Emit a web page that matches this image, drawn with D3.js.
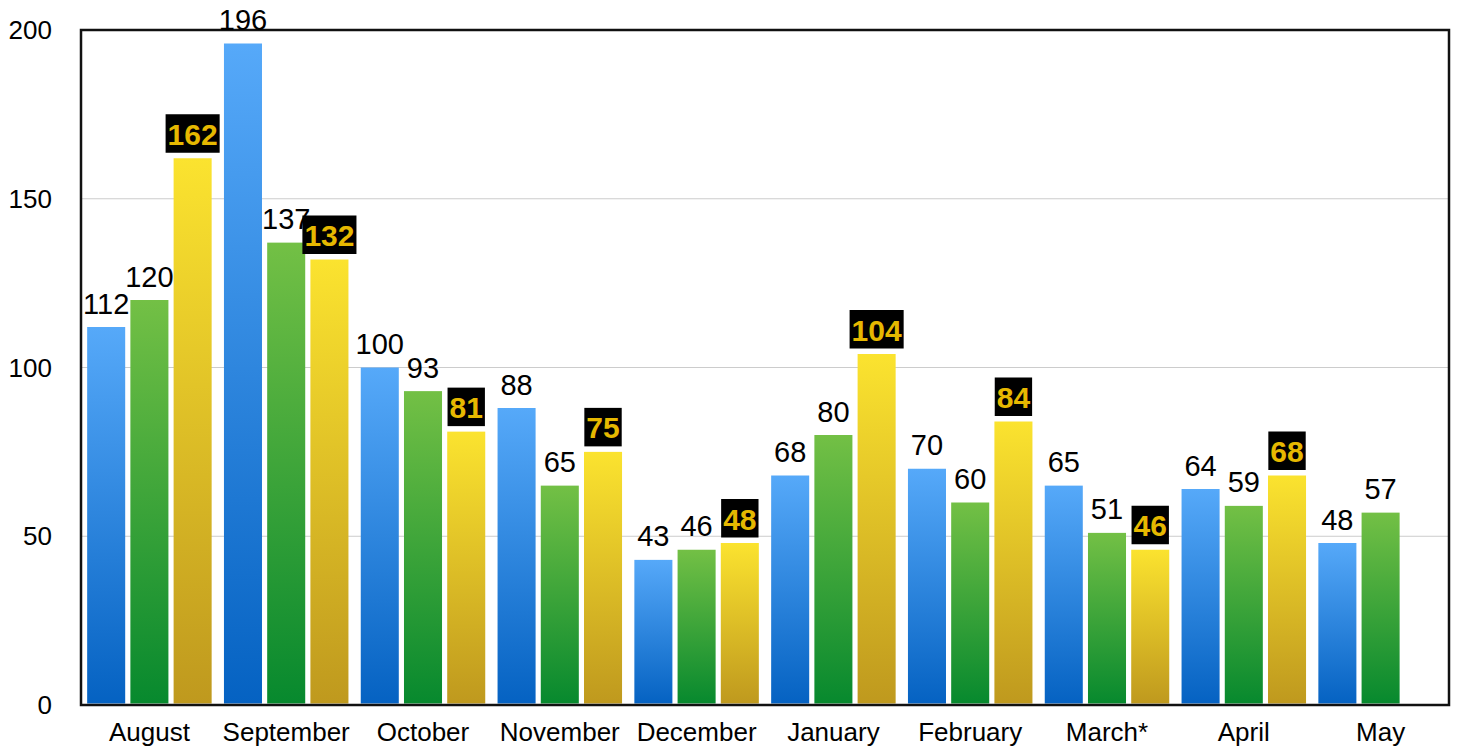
<!DOCTYPE html>
<html>
<head>
<meta charset="utf-8">
<script src="https://cdn.jsdelivr.net/npm/d3@7"></script>
<style>
  body { margin: 0; background: #fff; }
  text { font-family: "Liberation Sans", Arial, Helvetica, sans-serif; }
</style>
</head>
<body>
<div id="chart"></div>
<script>

// Data
var months = ["August", "September", "October", "November", "December", "January", "February", "March*", "April", "May"];
var seriesKeys = ["a", "b", "c"];
var seriesA = [112, 196, 100, 88, 43, 68, 70, 65, 64, 48];
var seriesB = [120, 137, 93, 65, 46, 80, 60, 51, 59, 57];
var seriesC = [162, 132, 81, 75, 48, 104, 84, 46, 68, null];
var yTicks = [0, 50, 100, 150, 200];

// Exposed variables
var attrs = {
  svgWidth: 1458,
  svgHeight: 750,
  marginLeft: 81,
  marginRight: 9,
  marginTop: 30,
  marginBottom: 45,
  container: '#chart'
};

//Calculated properties
var calc = {};
calc.chartWidth = attrs.svgWidth - attrs.marginLeft - attrs.marginRight;
calc.chartHeight = attrs.svgHeight - attrs.marginTop - attrs.marginBottom;

var allSeries = [seriesA, seriesB, seriesC];
var gradients = [
  { id: 'grad-a', top: '#56a9f9', bottom: '#0562c2' },
  { id: 'grad-b', top: '#73c045', bottom: '#07892e' },
  { id: 'grad-c', top: '#fbe32f', bottom: '#bf991e' }
];

//Scales
var scales = {};
scales.x0 = d3.scaleBand()
  .domain(months)
  .range([attrs.marginLeft, attrs.marginLeft + calc.chartWidth])
  .paddingInner(0.09)
  .paddingOuter(0.045);

scales.x1 = d3.scaleBand()
  .domain(seriesKeys)
  .range([0, scales.x0.bandwidth()])
  .paddingInner(0.12);

scales.y = d3.scaleLinear()
  .domain([0, 200])
  .range([attrs.marginTop + calc.chartHeight, attrs.marginTop]);

//Add svg
var svg = d3.select(attrs.container).append('svg')
  .attr('width', attrs.svgWidth)
  .attr('height', attrs.svgHeight);

//Gradients
var defs = svg.append('defs');
gradients.forEach(function (g) {
  var lg = defs.append('linearGradient')
    .attr('id', g.id)
    .attr('x1', 0).attr('y1', 0).attr('x2', 0).attr('y2', 1);
  lg.append('stop').attr('offset', '0%').attr('stop-color', g.top);
  lg.append('stop').attr('offset', '100%').attr('stop-color', g.bottom);
});

//Grid lines
svg.append('g')
  .selectAll('line')
  .data(yTicks.filter(function (d) { return d > 0 && d < 200; }))
  .enter().append('line')
  .attr('x1', attrs.marginLeft)
  .attr('x2', attrs.marginLeft + calc.chartWidth)
  .attr('y1', function (d) { return scales.y(d); })
  .attr('y2', function (d) { return scales.y(d); })
  .attr('stroke', '#cccccc')
  .attr('stroke-width', 1);

//Flatten values per series
var barData = [];
allSeries.forEach(function (values, s) {
  values.forEach(function (v, i) {
    if (v == null) return;
    barData.push({ month: months[i], key: seriesKeys[s], series: s, value: v });
  });
});

//Bars
svg.append('g')
  .selectAll('rect')
  .data(barData)
  .enter().append('rect')
  .attr('x', function (d) { return scales.x0(d.month) + scales.x1(d.key); })
  .attr('y', function (d) { return scales.y(d.value); })
  .attr('width', scales.x1.bandwidth())
  .attr('height', function (d) { return scales.y(0) - 1.5 - scales.y(d.value); })
  .attr('fill', function (d) { return 'url(#' + gradients[d.series].id + ')'; });

//Frame
svg.append('rect')
  .attr('x', attrs.marginLeft)
  .attr('y', attrs.marginTop)
  .attr('width', calc.chartWidth)
  .attr('height', calc.chartHeight)
  .attr('fill', 'none')
  .attr('stroke', '#111')
  .attr('stroke-width', 2.5);

//Y tick labels
svg.append('g')
  .selectAll('text')
  .data(yTicks)
  .enter().append('text')
  .attr('x', 52)
  .attr('y', function (d) { return scales.y(d); })
  .attr('dy', '0.35em')
  .attr('text-anchor', 'end')
  .attr('font-size', 26)
  .attr('fill', '#000')
  .text(function (d) { return d; });

//X labels
svg.append('g')
  .selectAll('text')
  .data(months)
  .enter().append('text')
  .attr('x', function (d) { return scales.x0(d) + scales.x0.bandwidth() / 2; })
  .attr('y', 741)
  .attr('text-anchor', 'middle')
  .attr('font-size', 26)
  .attr('fill', '#000')
  .text(function (d) { return d; });

//Value labels
var labels = svg.append('g');
barData.forEach(function (d) {
  var cx = scales.x0(d.month) + scales.x1(d.key) + scales.x1.bandwidth() / 2;
  var baseline = scales.y(d.value) - 13.5;
  if (d.series === 2) {
    var box = labels.append('rect').attr('fill', '#000');
    var t = labels.append('text')
      .attr('x', cx)
      .attr('y', baseline)
      .attr('text-anchor', 'middle')
      .attr('font-size', 30)
      .attr('font-weight', 'bold')
      .attr('fill', '#e6b800')
      .text(d.value);
    var w = t.node().getComputedTextLength() + 4;
    box.attr('x', cx - w / 2)
      .attr('y', baseline - 30.5)
      .attr('width', w)
      .attr('height', 38.5);
  } else {
    labels.append('text')
      .attr('x', cx)
      .attr('y', baseline)
      .attr('text-anchor', 'middle')
      .attr('font-size', 29)
      .attr('fill', '#000')
      .text(d.value);
  }
});

</script>
</body>
</html>
